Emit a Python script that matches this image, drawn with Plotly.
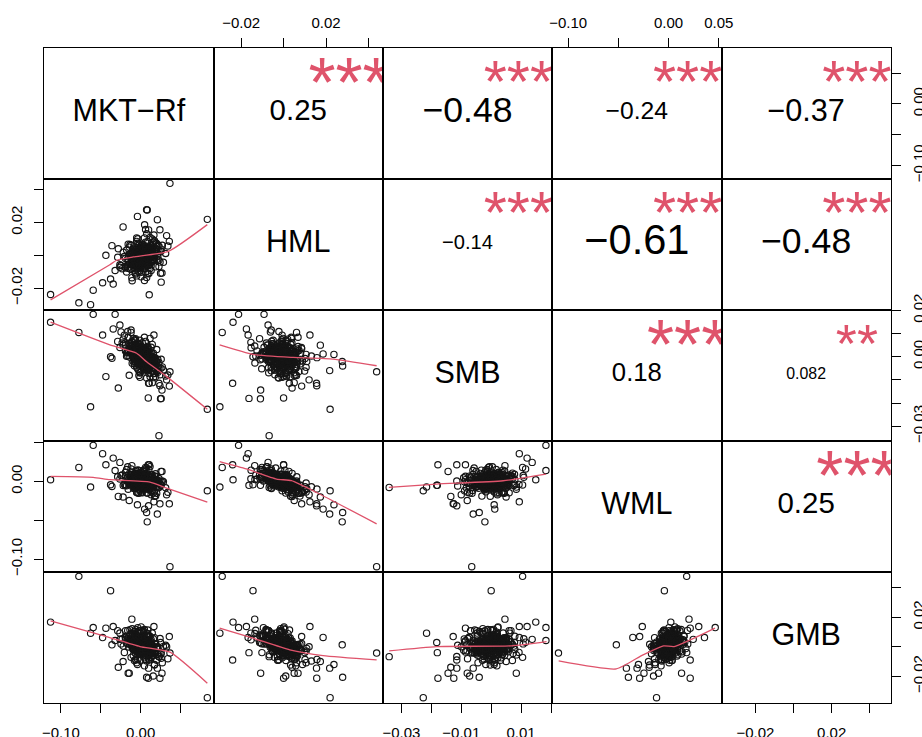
import plotly.graph_objects as go

# ---------------- data (returns; last 36 entries are the visible outliers) ----------------
var_names = ["MKT−Rf", "HML", "SMB", "WML", "GMB"]

mkt_rf = [
    0.0062, -0.0148, 0.0146, -0.0036, 0.023, 0.002, -0.0092, 0.0104, -0.0218, 0.0174,
    -0.0008, 0.0076, -0.012, 0.0314, -0.0064, 0.0048, -0.0288, 0.0132, 0.0006, 0.0202,
    -0.005, 0.0034, -0.0176, 0.0118, -0.0022, 0.0272, -0.0106, 0.009, -0.0246, 0.002,
    0.016, -0.0078, 0.0062, -0.0134, 0.0104, -0.0008, 0.0244, -0.0036, 0.0146, -0.0162,
    0.0048, -0.0064, 0.0188, 0.0006, 0.0076, -0.0092, 0.002, 0.009, -0.019, 0.0132,
    -0.0022, 0.0216, -0.005, 0.0034, -0.012, 0.0118, -0.0064, 0.0062, -0.0008, 0.0286,
    -0.0106, 0.0104, 0.0006, 0.002, 0.0174, -0.0204, 0.0076, -0.0036, 0.0146, -0.0078,
    0.0048, -0.0148, 0.0202, -0.0022, 0.009, -0.026, 0.0118, -0.005, 0.016, -0.0092,
    0.0034, -0.0134, 0.0258, -0.0008, 0.0062, -0.0064, 0.0132, -0.0106, 0.0048, -0.0036,
    0.0188, -0.0162, 0.0104, 0.0006, 0.0076, -0.0078, 0.023, -0.0022, 0.002, -0.0232,
    0.0146, -0.005, 0.0048, 0.0174, -0.0008, 0.0104, -0.0092, 0.0062, -0.0176, 0.009,
    0.0006, 0.0216, -0.0064, 0.0118, -0.0036, 0.0034, -0.012, 0.0342, -0.0022, 0.0132,
    -0.0106, 0.002, 0.0076, -0.019, 0.016, -0.0008, 0.009, -0.0078, 0.0062, 0.0006,
    0.0188, -0.0134, 0.0104, -0.0036, 0.0048, -0.0064, 0.0146, -0.0008, 0.0034, -0.005,
    0.0076, -0.0022, 0.0118, -0.0092, 0.0048, 0.0006, 0.009, -0.0064, 0.002, 0.0062,
    0.009, -0.0022, 0.0034, -0.0078, 0.0146, -0.0008, 0.0076, -0.012, 0.0048, 0.0104,
    -0.005, 0.002, 0.0188, -0.0036, 0.0062, -0.0092, 0.0118, 0.0006, 0.0132, -0.0064,
    0.0048, -0.0022, 0.016, -0.0106, 0.0034, 0.009, -0.0008, 0.0076, -0.0134, 0.002,
    0.0104, -0.0036, 0.0062, -0.0078, 0.0146, 0.0006, 0.0048, -0.005, 0.0118, -0.0022,
    0.0034, -0.0064, 0.0076, -0.0008, 0.0202, -0.0106, 0.002, 0.009, -0.0036, 0.0132,
    0.0006, 0.0062, -0.0078, 0.0104, -0.0008, 0.0048, -0.0148, 0.0174, -0.005, 0.002,
    0.0076, -0.0022, 0.0118, -0.0092, 0.0034, 0.009, -0.0036, 0.0146, -0.0064, 0.0048,
    0.0006, 0.0062, -0.005, 0.0216, -0.0008, 0.0104, -0.0078, 0.002, 0.0076, -0.0022,
    0.0132, -0.012, 0.0034, 0.0006, 0.009, -0.0036, 0.0062, -0.0064, 0.0048, -0.0008,
    0.0104, -0.005, 0.0034, 0.0006, 0.0076, -0.0022, 0.002, 0.0048, -0.0008, 0.0034,
    0.0146, -0.0106, 0.0174, -0.0134, 0.0062, -0.0022, 0.009, -0.005, 0.0202, -0.0162,
    0.0048, -0.0008, 0.0118, -0.0078, 0.002, 0.002, 0.0104, -0.0064, 0.023, -0.019,
    0.0076, -0.0036, 0.0132, -0.0092, 0.0048, -0.0008, 0.016, -0.012, 0.009, -0.005,
    0.0104, -0.0064, 0.0104, -0.0064, 0.0062, -0.0022, 0.002, 0.002, 0.0062, -0.0022,
    0.0132, -0.0092, 0.0076, -0.0036, 0.0048, -0.0008, 0.0034, 0.0006, 0.009, -0.005,
    0.0048, -0.0008, 0.0118, -0.0078, 0.002, 0.002, 0.0076, -0.0036, 0.0034, 0.0006,
    0.0146, -0.0106, 0.0062, -0.0022, 0.009, -0.005, 0.0048, -0.0008, 0.0104, -0.0064,
    0.0034, 0.0006, 0.0076, -0.0036, 0.002, 0.002, 0.0118, -0.0078, 0.0048, -0.0008,
    0.009, -0.005, 0.0062, -0.0022, 0.0034, 0.0006, 0.0132, -0.0092, 0.0076, -0.0036,
    0.0837, 0.023, 0.0368, -0.113, -0.0775, -0.0628, -0.0595, -0.032, 0.025, -0.0377,
    -0.0477, -0.0344, -0.0436, -0.036, -0.022, -0.004, 0.0075, 0.021, 0.0083, 0.0242,
    0.036, 0.0268, 0.0258, 0.0108, -0.0143, -0.011, 0.0158, -0.0156, 0.0326, 0.0255,
    -0.026, 0.0096, 0.0167, -0.028, 0.005, 0.01,
]

hml = [
    -0.0039, -0.0006, 0.0099, -0.0095, 0.0027, 0.0039, -0.004, -0.011, 0.0019, 0.0033,
    -0.007, 0.0131, -0.0058, 0.0011, -0.0022, -0.0153, -0.0012, 0.0062, -0.0103, -0.0026,
    0.0085, 0.0006, -0.0101, -0.0003, 0.0061, 0.0061, -0.0154, 0.0028, -0.0062, -0.0059,
    0.008, -0.0017, -0.0102, 0.001, 0.0016, -0.0049, -0.0041, 0.0101, -0.0006, -0.0078,
    0.0057, -0.0106, 0.0014, 0.0023, -0.0023, -0.0005, -0.0017, 0.0084, -0.0068, -0.0043,
    0.004, 0.006, -0.0125, -0.0008, 0.0061, 0.0032, -0.0057, 0.0157, -0.0028, -0.0042,
    -0.0014, -0.0054, 0.0058, -0.001, -0.0016, -0.0007, -0.0135, 0.0031, 0.0015, -0.0094,
    0.0036, -0.0055, 0.0072, -0.0058, 0.0021, -0.0057, -0.008, 0.0106, -0.0025, 0.0037,
    -0.0071, 0.0066, 0.0038, -0.0007, -0.0018, 0.0006, -0.0092, -0.0028, 0.0106, -0.0067,
    0.0077, -0.0022, -0.0019, -0.0131, 0.0033, -0.0038, -0.0029, 0.0068, 0.0018, -0.0081,
    0.005, -0.0013, -0.0083, 0.0089, -0.0042, 0.0002, 0.0023, 0.0017, 0.0032, -0.0063,
    0.0002, 0.0011, -0.0113, 0.0109, -0.0018, -0.005, 0.0012, 0.0057, -0.0072, 0.0041,
    -0.0049, 0.0067, -0.0037, -0.0019, -0.0004, 0.0049, -0.0112, 0.0011, -0.0004, -0.0033,
    -0.007, -0.0081, 0.0051, 0.0073, -0.0013, -0.0008, -0.0034, 0.0028, -0.0036, -0.0027,
    0.0012, 0.0012, -0.0017, -0.0019, 0.0015, -0.0026, 0.0035, -0.0064, 0.0004, -0.006,
    0.0014, -0.0044, 0.0034, -0.0017, -0.0027, 0.0049, -0.0058, -0.0009, -0.0006, 0.0037,
    -0.0034, 0.0018, 0.0028, -0.0081, 0.0045, -0.0033, 0.0025, -0.0054, 0.0013, 0.0034,
    -0.0027, -0.0002, -0.0004, 0.0007, -0.0078, 0.0056, -0.0049, 0.0026, -0.0053, -0.0003,
    -0.0026, 0.0024, -0.0011, -0.0073, 0.005, -0.0012, 0.0057, -0.0062, -0.001, 0.0005,
    -0.0057, 0.0006, -0.0002, 0.0021, 0.0023, -0.0056, 0.0039, -0.0021, -0.0011, 0.0034,
    -0.0068, 0.001, -0.001, -0.0061, 0.0007, 0.0036, -0.0034, 0.0033, 0.0029, -0.0024,
    0.0033, -0.0023, 0.0004, 0.0016, 0.0013, -0.0035, 0.001, 0.0022, -0.0043, 0.0001,
    0.0044, -0.0046, -0.0013, -0.0003, -0.0042, 0.0044, -0.0059, 0.0004, -0.0009, 0.0019,
    -0.0036, -0.0016, 0.002, -0.0033, 0.0021, -0.0032, -0.0004, -0.0001, -0.0034, 0.0,
    0.0009, -0.0041, -0.0001, -0.0019, 0.0019, -0.003, -0.001, 0.0008, -0.0014, -0.0022,
    0.0036, -0.0049, -0.003, 0.001, 0.008, -0.01, 0.0, -0.002, 0.0037, -0.0057,
    0.0057, -0.0077, -0.0017, -0.0003, 0.0025, -0.0045, -0.0012, -0.0008, 0.0055, -0.0075,
    0.0047, -0.0067, -0.0064, 0.0044, -0.0006, -0.0014, 0.0066, -0.0086, -0.0049, 0.0029,
    0.0044, -0.0064, -0.004, 0.002, 0.0017, -0.0037, 0.0032, -0.0052, -0.0004, -0.0016,
    0.002, -0.004, -0.003, 0.001, 0.005, -0.007, 0.0006, -0.0026, 0.0007, -0.0027,
    -0.002, 0.0, 0.0032, -0.0052, 0.0011, -0.0031, 0.0005, -0.0025, 0.0027, -0.0047,
    0.0001, -0.0021, 0.0024, -0.0044, 0.0035, -0.0055, -0.0006, -0.0014, 0.0016, -0.0036,
    0.0041, -0.0061, 0.0019, -0.0039, -0.0003, -0.0017, 0.0004, -0.0024, 0.0022, -0.0042,
    -0.0021, 0.0001, 0.0038, -0.0058, -0.0008, -0.0012, 0.0041, -0.0061, 0.0012, -0.0032,
    0.0219, -0.0068, 0.0438, -0.0238, -0.0289, -0.03, -0.0212, -0.0092, -0.0109, -0.0144,
    -0.0167, -0.0175, 0.0, 0.0059, 0.0173, 0.0237, 0.0278, 0.0217, 0.0276, 0.0156,
    0.0085, -0.0108, -0.0163, -0.024, 0.005, -0.0136, 0.001, 0.0068, 0.012, 0.0025,
    -0.0073, 0.0, 0.0124, 0.004, 0.0186, 0.0155,
]

smb = [
    0.0031, 0.0021, -0.0062, 0.0022, -0.0115, 0.006, -0.0021, -0.0013, 0.0076, -0.0003,
    -0.0069, 0.0003, 0.0115, -0.0083, 0.0013, 0.0039, 0.0066, -0.0034, -0.0052, 0.0031,
    0.0035, -0.0033, 0.0017, 0.0079, -0.0081, -0.0044, 0.0062, -0.0055, 0.0107, -0.0015,
    0.0015, -0.0039, -0.0009, 0.0048, -0.0023, 0.0071, -0.0078, -0.0008, 0.0053, 0.0004,
    0.0019, 0.0008, -0.0086, 0.0043, -0.0092, 0.0029, 0.0, 0.004, 0.0025, -0.0004,
    -0.0036, -0.0012, 0.0025, -0.0028, 0.0105, -0.0086, 0.0048, -0.0004, -0.0029, -0.0057,
    -0.0028, 0.0032, 0.0018, 0.0, -0.0073, 0.0093, -0.0027, -0.0018, -0.0002, 0.0011,
    0.0084, 0.0056, -0.0064, -0.0061, 0.002, 0.004, -0.0006, 0.001, -0.009, 0.0079,
    -0.0048, 0.0033, -0.0011, -0.0089, 0.0021, 0.0008, 0.0041, 0.0037, -0.0046, 0.0037,
    -0.0031, 0.0109, -0.0048, 0.0003, 0.0038, -0.0029, -0.0025, 0.0044, -0.002, 0.0059,
    -0.0112, 0.0045, -0.0011, -0.0018, 0.0051, -0.0008, 0.0009, 0.0066, 0.0002, -0.0025,
    0.0023, -0.0067, 0.0078, -0.0021, -0.0053, 0.0037, 0.0035, -0.0079, -0.0021, 0.0021,
    0.0002, 0.0025, -0.0057, 0.006, -0.003, -0.0069, 0.0005, 0.0071, -0.0024, 0.0013,
    -0.0006, -0.0002, -0.0023, 0.0027, -0.0061, 0.0053, -0.0047, 0.0006, 0.0002, -0.0015,
    0.0008, -0.0001, -0.0016, 0.0039, -0.0026, 0.0028, -0.005, 0.0028, -0.001, 0.0006,
    -0.003, 0.0039, 0.0007, -0.0004, -0.0007, 0.0006, -0.0047, 0.0045, -0.0056, 0.0022,
    0.0005, 0.0025, -0.0056, 0.0017, 0.0036, -0.0006, -0.0016, 0.0023, -0.0034, 0.0053,
    -0.0046, 0.0024, 0.0, 0.0012, 0.0002, -0.0045, 0.0056, -0.0002, 0.0033, -0.002,
    -0.0003, 0.0007, 0.0026, 0.0001, -0.0027, -0.0032, 0.0014, 0.004, -0.0046, 0.0014,
    0.0027, -0.0022, -0.0002, -0.0004, -0.0024, 0.0067, -0.0015, -0.006, 0.0057, -0.0019,
    -0.0012, 0.0016, 0.0031, -0.0023, -0.0019, 0.0024, 0.0026, -0.0033, 0.0035, 0.0015,
    -0.0042, 0.0009, -0.0001, 0.0004, 0.0002, -0.0005, 0.0032, -0.0062, 0.0023, -0.0021,
    0.0013, -0.0029, 0.0045, -0.0052, -0.0019, -0.0003, 0.0016, 0.0035, -0.0027, 0.0019,
    0.0001, 0.0015, -0.0033, 0.0043, -0.0015, -0.0008, 0.0011, 0.0013, 0.0004, 0.0006,
    -0.0028, 0.003, -0.0008, 0.0008, -0.0007, -0.0001, 0.001, -0.0016, 0.0021, -0.0008,
    -0.0002, 0.0037, -0.0048, 0.0058, -0.0019, 0.0014, 0.0045, -0.0045, -0.0019, 0.0019,
    -0.0051, 0.0051, 0.0014, -0.0014, 0.0, 0.0, -0.0073, 0.0073, -0.005, 0.005,
    0.0018, -0.0018, -0.0009, 0.0009, 0.0034, -0.0034, -0.002, 0.002, -0.0035, 0.0035,
    0.0012, -0.0012, -0.0003, 0.0003, -0.0039, 0.0039, 0.0, 0.0, 0.0006, -0.0006,
    -0.0034, 0.0034, 0.0028, -0.0028, 0.0014, -0.0014, 0.0007, -0.0007, -0.001, 0.001,
    -0.0031, 0.0031, -0.0021, 0.0021, 0.0025, -0.0025, -0.0027, 0.0027, 0.0002, -0.0002,
    -0.0017, 0.0017, 0.0011, -0.0011, -0.0035, 0.0035, 0.0024, -0.0024, -0.0003, 0.0003,
    -0.0008, 0.0008, -0.0012, 0.0012, 0.0035, -0.0035, -0.0001, 0.0001, -0.0016, 0.0016,
    0.001, -0.001, 0.0001, -0.0001, -0.0003, 0.0003, -0.0019, 0.0019, 0.0018, -0.0018,
    -0.0227, -0.0341, -0.0065, 0.0149, 0.0105, -0.0216, 0.0183, 0.0183, -0.0182, 0.0,
    0.0094, 0.012, -0.0086, -0.0007, 0.005, 0.001, -0.004, -0.006, -0.0021, -0.0125,
    -0.0127, -0.0144, -0.018, -0.0115, -0.008, 0.0046, -0.0072, 0.0084, -0.01, -0.005,
    0.0137, -0.0178, 0.0094, -0.0135, 0.0012, -0.0115,
]

wml = [
    0.00385, 0.0094, -0.01165, 0.0004, 0.00045, -0.0146, 0.0064, 0.0153, -0.00515, -0.01895,
    0.0053, -0.0068, 0.0161, -0.00825, -0.0073, 0.0145, 0.0059, 0.006, 0.00485, 0.00115,
    -0.01415, 0.01455, 0.0153, -0.00355, -0.00105, 0.0005, 0.00345, -0.00445, 0.00755, -0.0086,
    -0.0053, -0.00445, 0.01805, -0.00085, -0.0107, 0.0107, -0.0026, -0.0068, -0.00585, 0.01885,
    -0.0075, 0.0055, 0.0066, -0.01395, 0.0048, -0.0006, 0.0014, -0.01485, 0.01175, 0.0022,
    0.01035, -0.0047, 0.00305, -0.00265, -0.0045, 0.00225, -0.0091, -0.00975, 0.0033, -0.00035,
    0.00905, -0.0023, -0.00255, 0.0, 0.00685, -0.0038, 0.0024, -0.0048, 0.00835, 0.01015,
    -0.0073, -0.004, -0.01525, 0.01395, 0.00095, 0.0032, 0.01905, -0.01355, -0.0003, 0.0022,
    0.00035, -0.00405, -0.00065, -0.0121, 0.00045, 0.0079, 0.0048, -0.00415, -0.0021, 0.0092,
    -0.0188, 0.00525, 0.0019, 0.00805, 0.0032, -0.00505, 0.00365, -0.01525, 0.0024, 0.0083,
    -0.00585, 0.01345, 0.0125, -0.01335, -0.0019, 0.0009, -0.0038, 0.00785, -0.0057, -0.00545,
    0.00625, 0.0011, 0.0093, -0.00915, -0.0046, 0.00255, 0.0085, -0.01395, 0.01115, -0.017,
    0.00485, -0.0066, 0.0172, -0.00525, -0.0045, -0.0025, 0.00435, 0.00355, -0.00155, 0.00445,
    0.0098, 0.00455, -0.0025, -0.0148, 0.0089, -0.0037, -0.00585, -0.0031, 0.00055, 0.00505,
    -0.007, 0.00235, 0.00085, -0.001, -0.0007, 0.00065, -0.00665, 0.0099, -0.0052, 0.00565,
    -0.00165, 0.00155, -0.00065, -0.00125, 0.00555, -0.0105, 0.0062, 0.0047, -0.0045, -0.0045,
    0.00885, -0.0056, -0.0026, 0.0016, 0.00065, 0.0018, -0.01075, 0.01105, -0.0002, -0.0049,
    0.0013, -0.00685, 0.0027, 0.00005, 0.00335, -0.00125, 0.0003, -0.0018, 0.00055, 0.005,
    -0.0007, 0.0006, -0.00815, 0.00755, -0.00505, -0.00455, -0.0035, 0.00405, 0.00665, -0.00105,
    -0.00165, 0.0031, -0.0034, 0.0023, -0.00705, 0.00705, -0.0082, 0.00375, -0.0012, 0.002,
    0.00425, -0.00115, -0.00665, 0.0071, 0.0003, -0.0089, 0.003, -0.00215, 0.00025, -0.0012,
    -0.0088, 0.00615, -0.00255, -0.0048, -0.00045, -0.00145, -0.0006, -0.00505, 0.0089, -0.0027,
    -0.00215, 0.00685, -0.00495, -0.0017, 0.0037, -0.0035, 0.00235, 0.0028, -0.0068, -0.00065,
    0.0024, 0.0045, -0.00665, 0.00205, 0.00175, -0.0018, 0.00165, 0.0005, 0.0011, -0.0007,
    -0.0045, 0.00545, -0.00085, 0.00245, -0.0044, 0.00275, 0.0016, -0.0025, -0.0011, 0.00335,
    -0.00705, 0.01125, 0.00245, -0.00325, -0.00475, 0.00475, 0.00035, -0.00035, -0.00105, 0.00105,
    -0.0075, 0.0075, 0.00885, -0.00885, 0.0042, -0.0042, -0.0059, 0.0059, -0.00675, 0.00675,
    -0.0148, 0.0148, 0.0088, -0.0088, -0.0037, 0.0037, -0.0041, 0.0041, -0.00345, 0.00345,
    -0.0003, 0.0003, -0.0003, 0.0003, -0.00255, 0.00255, -0.0084, 0.0084, 0.00405, -0.00405,
    0.0, 0.0, 0.003, -0.003, -0.0085, 0.0085, -0.00305, 0.00305, -0.00105, 0.00105,
    0.0047, -0.0047, -0.00735, 0.00735, 0.0006, -0.0006, -0.0072, 0.0072, -0.00325, 0.00325,
    -0.00165, 0.00165, 0.00005, -0.00005, -0.00265, 0.00265, 0.0059, -0.0059, -0.0035, 0.0035,
    -0.00045, 0.00045, -0.0004, 0.0004, -0.0014, 0.0014, -0.00015, 0.00015, -0.0021, 0.0021,
    -0.00345, 0.00345, -0.00275, 0.00275, 0.00295, -0.00295, -0.0026, 0.0026, -0.0022, 0.0022,
    -0.012, -0.0077, -0.1096, 0.0022, 0.018, -0.0072, 0.0464, 0.014, -0.005, -0.0042,
    0.0357, 0.03, 0.0215, -0.0064, -0.02, -0.03, -0.04, -0.042, -0.052, -0.0288,
    -0.0288, 0.0129, -0.005, 0.0215, -0.0245, 0.0203, -0.015, -0.01, -0.017, 0.0129,
    0.0245, 0.0215, -0.0262, -0.0193, -0.0356, -0.0314,
]

gmb = [
    -0.00148, 0.00682, -0.00394, 0.01294, -0.0066, -0.0011, -0.00202, 0.00714, 0.00042, -0.01236,
    0.01082, -0.00964, 0.0031, 0.00104, -0.00874, 0.00468, 0.01092, -0.00148, 0.00206, -0.00918,
    0.0022, 0.00314, 0.00724, 0.00708, -0.00272, -0.01078, 0.00924, 0.0113, 0.00194, 0.0022,
    -0.0019, 0.01032, -0.00398, 0.00476, -0.00286, 0.00172, 0.00554, -0.00866, -0.00174, 0.01108,
    -0.01292, 0.00816, -0.00352, 0.00616, -0.00234, -0.00092, 0.0019, -0.0026, 0.0053, -0.00718,
    0.00388, -0.00504, 0.006, 0.01024, -0.0072, 0.00408, 0.00526, -0.00858, -0.00918, 0.00026,
    0.01224, -0.00276, -0.00204, -0.002, 0.00614, -0.00384, 0.00896, 0.00594, -0.00634, 0.00722,
    -0.00552, -0.00018, -0.00068, 0.00318, 0.0089, 0.0093, 0.00188, -0.0108, 0.0053, -0.00192,
    0.01094, 0.00146, -0.00782, 0.00312, -0.00578, 0.01176, 0.00182, -0.00046, -0.00292, -0.00536,
    0.00168, 0.00538, -0.00026, 0.01116, -0.00494, 0.00502, -0.0066, 0.00108, -0.004, 0.00528,
    0.00096, -0.0034, 0.01168, -0.01206, 0.00422, 0.00044, -0.00592, 0.00322, 0.00244, -0.0004,
    0.01346, -0.00004, 0.00286, -0.00112, 0.00274, -0.00366, 0.0053, -0.00808, 0.01078, -0.00468,
    0.00054, 0.0002, -0.00124, 0.0109, -0.001, -0.00148, 0.0077, -0.00928, 0.00232, 0.00136,
    0.00208, 0.01146, -0.00856, -0.00156, 0.00428, -0.00114, 0.00926, -0.00148, 0.00544, 0.0038,
    -0.00284, 0.00318, -0.00062, 0.00368, -0.00002, -0.00164, 0.0007, 0.00236, 0.0048, 0.00112,
    -0.003, 0.00418, -0.00186, 0.00662, 0.00096, -0.00418, 0.00726, 0.0012, 0.00148, -0.00766,
    0.0061, -0.0001, -0.00412, 0.01004, -0.00038, 0.00038, 0.00118, -0.00274, 0.00482, -0.00234,
    0.00398, -0.00152, -0.0022, 0.00694, 0.00424, -0.0057, 0.00202, 0.00216, 0.00356, -0.0031,
    0.00274, -0.00266, 0.00102, 0.00712, -0.00554, 0.00496, -0.00382, 0.003, 0.00028, 0.00618,
    0.00044, 0.00336, -0.00624, 0.00262, -0.00118, 0.00134, 0.0028, 0.0021, -0.00336, 0.00062,
    0.00516, -0.00388, 0.00202, 0.00104, -0.00368, 0.00228, 0.00492, -0.00456, 0.0016, 0.0001,
    -0.00094, 0.00568, -0.00482, 0.00228, 0.00214, 0.004, -0.00136, -0.00004, 0.00276, 0.00048,
    0.00046, -0.00118, 0.0038, -0.00094, 0.00082, -0.00146, 0.00862, -0.0009, 0.00236, -0.00532,
    0.00022, 0.0021, 0.00374, -0.00164, 0.0036, 0.00304, -0.00198, 0.00476, 0.00088, 0.00212,
    -0.00246, 0.0035, -0.00066, 0.00206, -0.00164, 0.00498, 0.0008, 0.00188, -0.00058, 0.00204,
    -0.00184, 0.00224, -0.00276, 0.00396, -0.00258, 0.00708, -0.0057, 0.0077, -0.00008, 0.00208,
    -0.00372, 0.00572, -0.00182, 0.00382, -0.0041, 0.0061, 0.00654, -0.00454, -0.0043, 0.0063,
    0.00026, 0.00174, 0.00342, -0.00142, -0.00752, 0.00952, -0.006, 0.008, 0.0016, 0.0004,
    0.00064, 0.00136, 0.00094, 0.00106, -0.00368, 0.00568, 0.001, 0.001, -0.00188, 0.00388,
    0.00092, 0.00108, -0.00084, 0.00284, -0.00232, 0.00432, 0.00474, -0.00274, -0.0001, 0.0021,
    0.00278, -0.00078, 0.00038, 0.00162, -0.0034, 0.0054, 0.00356, -0.00156, 0.00094, 0.00106,
    -0.00124, 0.00324, -0.00378, 0.00578, -0.0008, 0.0028, 0.00108, 0.00092, -0.00566, 0.00766,
    -0.00066, 0.00266, 0.00086, 0.00114, 0.0024, -0.0004, -0.00242, 0.00442, 0.00248, -0.00048,
    0.0019, 0.0001, -0.00178, 0.00378, 0.00434, -0.00234, -0.00148, 0.00348, -0.00064, 0.00264,
    -0.0345, -0.0067, -0.0043, 0.0167, 0.0477, 0.0092, 0.013, 0.0042, 0.0029, 0.038,
    0.0062, 0.0137, 0.0126, 0.0013, -0.01, -0.012, -0.0207, -0.0145, 0.0013, -0.0213,
    0.0069, -0.0179, -0.004, -0.009, -0.0179, 0.0187, -0.0198, -0.0179, 0.0, -0.005,
    0.005, -0.0213, 0.0137, -0.0139, 0.0063, -0.0145,
]

# correlations printed in the upper panels
cor_row = [0, 0, 0, 0, 1, 1, 1, 2, 2, 3]
cor_col = [1, 2, 3, 4, 2, 3, 4, 3, 4, 4]
cor_values = [0.25, -0.48, -0.24, -0.37, -0.14, -0.61, -0.48, 0.18, 0.082, 0.25]
cor_labels = ["0.25", "−0.48", "−0.24", "−0.37", "−0.14", "−0.61", "−0.48", "0.18", "0.082", "0.25"]
cor_stars = ["***", "***", "***", "***", "***", "***", "***", "***", "**", "***"]

# smoothing lines (x = column variable, y = row variable)
smooth_hml_mkt_x = [-0.113, -0.0386, -0.030, -0.0093, 0.0347, 0.0837]
smooth_hml_mkt_y = [-0.0271, -0.0057, -0.003, -0.001, 0.0024, 0.0187]
smooth_smb_mkt_x = [-0.113, -0.0386, -0.005, 0.0075, 0.0327, 0.0837]
smooth_smb_mkt_y = [0.0149, 0.0051, 0.0015, -0.0022, -0.0086, -0.0227]
smooth_smb_hml_x = [-0.0301, -0.0144, 0.0045, 0.0233, 0.0438]
smooth_smb_hml_y = [0.0051, 0.001, -0.0003, -0.001, -0.0039]
smooth_wml_mkt_x = [-0.113, -0.0595, -0.0386, 0.0117, 0.0327, 0.0837]
smooth_wml_mkt_y = [0.0064, 0.0052, 0.0022, -0.0008, -0.0086, -0.0266]
smooth_wml_hml_x = [-0.0301, -0.0175, -0.0033, 0.0037, 0.0155, 0.0438]
smooth_wml_hml_y = [0.0254, 0.016, 0.0031, 0.0009, -0.0142, -0.0545]
smooth_wml_smb_x = [-0.0342, -0.0183, 0.004, 0.0183]
smooth_wml_smb_y = [-0.0077, -0.0034, 0.0009, 0.0095]
smooth_gmb_mkt_x = [-0.113, -0.0427, -0.0009, 0.0368, 0.0837]
smooth_gmb_mkt_y = [0.0176, 0.0069, 0.0001, -0.0037, -0.0247]
smooth_gmb_hml_x = [-0.0301, -0.0144, 0.0029, 0.0186, 0.0438]
smooth_gmb_hml_y = [0.0126, 0.0058, -0.0021, -0.006, -0.0089]
smooth_gmb_smb_x = [-0.0341, -0.0182, 0.0067, 0.0185]
smooth_gmb_smb_y = [-0.0028, 0.0001, 0.0006, 0.0035]
smooth_gmb_wml_x = [-0.1094, -0.0521, -0.0255, -0.0049, 0.0055, 0.0462]
smooth_gmb_wml_y = [-0.0096, -0.015, -0.0055, 0.0006, 0.0001, 0.0126]

# ticks
mkt_ticks = [-0.10, -0.05, 0.00, 0.05]
mkt_ticktext = ["−0.10", "", "0.00", ""]
hml_ticks = [-0.02, 0.00, 0.02, 0.04]
hml_ticktext = ["−0.02", "", "0.02", ""]
smb_ticks = [-0.03, -0.02, -0.01, 0.00, 0.01, 0.02]
smb_ticktext_bottom = ["−0.03", "", "−0.01", "", "0.01", ""]
smb_ticktext_right = ["−0.03", "", "", "0.00", "", "0.02"]
wml_ticks = [-0.10, -0.05, 0.00, 0.05]
wml_ticktext_top = ["−0.10", "", "0.00", "0.05"]
wml_ticktext_left = ["−0.10", "", "0.00", ""]
gmb_ticks = [-0.02, 0.00, 0.02, 0.04]
gmb_ticktext = ["−0.02", "", "0.02", ""]

# ---------------- figure ----------------
series = [mkt_rf, hml, smb, wml, gmb]
smooth = {
    (1, 0): (smooth_hml_mkt_x, smooth_hml_mkt_y),
    (2, 0): (smooth_smb_mkt_x, smooth_smb_mkt_y),
    (2, 1): (smooth_smb_hml_x, smooth_smb_hml_y),
    (3, 0): (smooth_wml_mkt_x, smooth_wml_mkt_y),
    (3, 1): (smooth_wml_hml_x, smooth_wml_hml_y),
    (3, 2): (smooth_wml_smb_x, smooth_wml_smb_y),
    (4, 0): (smooth_gmb_mkt_x, smooth_gmb_mkt_y),
    (4, 1): (smooth_gmb_hml_x, smooth_gmb_hml_y),
    (4, 2): (smooth_gmb_smb_x, smooth_gmb_smb_y),
    (4, 3): (smooth_gmb_wml_x, smooth_gmb_wml_y),
}

W, H = 922, 737
X0, PW = 44.3, 169.3
Y0, PH = 47.5, 131.0
FONT = "Liberation Sans, Arial, Helvetica, sans-serif"
RED = "#DF536B"
N = 5

ranges = []
for s in series:
    lo, hi = min(s), max(s)
    pad = 0.04 * (hi - lo)
    ranges.append((lo - pad, hi + pad))

fig = go.Figure()
layout = dict(
    template="none",
    width=W, height=H, margin=dict(l=0, r=0, t=0, b=0, pad=0), autosize=False,
    paper_bgcolor="white", plot_bgcolor="white", showlegend=False,
    font=dict(family=FONT, color="black"),
)


def ax_name(r, c):
    return r * N + c + 1


base_axis = dict(showgrid=False, zeroline=False, showline=True, mirror=True, automargin=False,
                 linecolor="black", linewidth=1, ticks="", showticklabels=False,
                 fixedrange=True, ticklen=9, tickwidth=1, tickcolor="black",
                 tickfont=dict(family=FONT, size=15, color="black"))

for r in range(N):
    for c in range(N):
        k = ax_name(r, c)
        xd = [(X0 + c * PW) / W, (X0 + (c + 1) * PW) / W]
        yd = [1 - (Y0 + (r + 1) * PH) / H, 1 - (Y0 + r * PH) / H]
        xa = dict(base_axis, domain=xd, range=list(ranges[c]), anchor=f"y{k}")
        ya = dict(base_axis, domain=yd, range=list(ranges[r]), anchor=f"x{k}")
        layout[f"xaxis{k}"] = xa
        layout[f"yaxis{k}"] = ya

# outer axes
x_bottom = {0: (mkt_ticks, mkt_ticktext), 2: (smb_ticks, smb_ticktext_bottom), 4: (gmb_ticks, gmb_ticktext)}
x_top = {1: (hml_ticks, hml_ticktext), 3: (wml_ticks, wml_ticktext_top)}
y_left = {1: (hml_ticks, hml_ticktext), 3: (wml_ticks, wml_ticktext_left)}
y_right = {0: (mkt_ticks, mkt_ticktext), 2: (smb_ticks, smb_ticktext_right), 4: (gmb_ticks, gmb_ticktext)}

for c, (tv, tt) in x_bottom.items():
    k = ax_name(4, c)
    layout[f"xaxis{k}"].update(ticks="outside", showticklabels=True, tickvals=tv, ticktext=tt,
                               side="bottom", ticklabelstandoff=7)
for c, (tv, tt) in x_top.items():
    k = ax_name(0, c)
    layout[f"xaxis{k}"].update(ticks="outside", showticklabels=True, tickvals=tv, ticktext=tt,
                               side="top", ticklabelstandoff=4)
for r, (tv, tt) in y_left.items():
    k = ax_name(r, 0)
    layout[f"yaxis{k}"].update(ticks="outside", showticklabels=True, tickvals=tv, ticktext=tt,
                               side="left", tickangle=-90, ticklabelstandoff=6)
for r, (tv, tt) in y_right.items():
    k = ax_name(r, 4)
    layout[f"yaxis{k}"].update(ticks="outside", showticklabels=True, tickvals=tv, ticktext=tt,
                               side="right", tickangle=-90, ticklabelstandoff=5)

# lower panels: scatter + smooth
for r in range(N):
    for c in range(r):
        k = ax_name(r, c)
        fig.add_trace(go.Scatter(
            x=series[c], y=series[r], mode="markers", xaxis=f"x{k}", yaxis=f"y{k}",
            marker=dict(symbol="circle-open", size=6.3, color="#151515", line=dict(width=1.15)),
            hoverinfo="skip", cliponaxis=True))
        sx, sy = smooth[(r, c)]
        fig.add_trace(go.Scatter(
            x=sx, y=sy, mode="lines", xaxis=f"x{k}", yaxis=f"y{k}",
            line=dict(color=RED, width=1.3, shape="spline", smoothing=0.5),
            hoverinfo="skip", cliponaxis=True))

# diagonal labels
for i in range(N):
    k = ax_name(i, i)
    lo_x, hi_x = ranges[i]
    lo_y, hi_y = ranges[i]
    fig.add_trace(go.Scatter(
        x=[(lo_x + hi_x) / 2], y=[(lo_y + hi_y) / 2], mode="text", text=[var_names[i]],
        textposition="middle center", xaxis=f"x{k}", yaxis=f"y{k}",
        textfont=dict(family=FONT, size=30.5, color="black"), hoverinfo="skip"))


def em_width(s):
    w = 0.0
    for ch in s:
        if ch.isdigit():
            w += 0.556
        elif ch == ".":
            w += 0.278
        else:
            w += 0.333
    return w


# upper panels: correlation values and stars
for i in range(len(cor_values)):
    r, c = cor_row[i], cor_col[i]
    k = ax_name(r, c)
    lo_x, hi_x = ranges[c]
    lo_y, hi_y = ranges[r]
    ew = em_width(cor_labels[i])
    f_txt = PW * 0.8 * (abs(cor_values[i]) + 0.3) / 1.3 / ew
    f_star = PW * 0.8 / ew
    fig.add_trace(go.Scatter(
        x=[lo_x + 0.5 * (hi_x - lo_x)], y=[lo_y + 0.5 * (hi_y - lo_y)], mode="text",
        text=[cor_labels[i]], textposition="middle center", xaxis=f"x{k}", yaxis=f"y{k}",
        textfont=dict(family=FONT, size=f_txt, color="black"), hoverinfo="skip", cliponaxis=True))
    shift = 0.23 * f_star / PH * (hi_y - lo_y)
    fig.add_trace(go.Scatter(
        x=[lo_x + 0.8 * (hi_x - lo_x)], y=[lo_y + 0.8 * (hi_y - lo_y) - shift], mode="text",
        text=[cor_stars[i]], textposition="middle center", xaxis=f"x{k}", yaxis=f"y{k}",
        textfont=dict(family=FONT, size=f_star, color=RED), hoverinfo="skip", cliponaxis=True))

fig.update_layout(**layout)
fig.write_html("out.html", config={"displayModeBar": False, "staticPlot": True},
               post_script="document.body.style.margin='0px';")
